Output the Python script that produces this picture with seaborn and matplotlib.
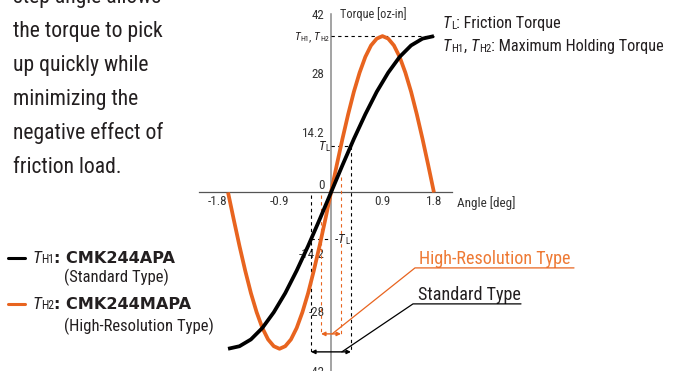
import numpy as np
import matplotlib
matplotlib.use("Agg")
import matplotlib.pyplot as plt
import matplotlib.transforms as mtransforms
from matplotlib.lines import Line2D
from matplotlib import font_manager
import seaborn as sns

# ---- data -------------------------------------------------------------
angle_std = [-1.8, -1.6, -1.4, -1.2, -1.0, -0.8, -0.6, -0.4, -0.2, 0.0,
             0.2, 0.4, 0.6, 0.8, 1.0, 1.2, 1.4, 1.6, 1.8]
torque_std = [-36.8, -36.2, -34.6, -31.9, -28.2, -23.7, -18.4, -12.6, -6.4, 0.0,
              6.4, 12.6, 18.4, 23.7, 28.2, 31.9, 34.6, 36.2, 36.8]

angle_hr = [-1.8, -1.7, -1.6, -1.5, -1.4, -1.3, -1.2, -1.1, -1.0, -0.9,
            -0.8, -0.7, -0.6, -0.5, -0.4, -0.3, -0.2, -0.1, 0.0,
            0.1, 0.2, 0.3, 0.4, 0.5, 0.6, 0.7, 0.8, 0.9,
            1.0, 1.1, 1.2, 1.3, 1.4, 1.5, 1.6, 1.7, 1.8]
torque_hr = [0.0, -6.4, -12.6, -18.4, -23.7, -28.2, -31.9, -34.6, -36.2, -36.8,
             -36.2, -34.6, -31.9, -28.2, -23.7, -18.4, -12.6, -6.4, 0.0,
             6.4, 12.6, 18.4, 23.7, 28.2, 31.9, 34.6, 36.2, 36.8,
             36.2, 34.6, 31.9, 28.2, 23.7, 18.4, 12.6, 6.4, 0.0]

holding_torque = 36.8
friction_torque = 11.0

x_ticks = [-1.8, -0.9, 0.9, 1.8]
x_tick_labels = ["-1.8", "-0.9", "0.9", "1.8"]
y_ticks = [42, 28, 14.2, 0, -14.2, -28, -42]
y_tick_labels = ["42", "28", "14.2", "0", "-14.2", "-28", "-42"]

paragraph = ["step angle allows", "the torque to pick", "up quickly while",
             "minimizing the", "negative effect of", "friction load."]

# ---- style ------------------------------------------------------------
sns.set_style("white")
installed = {f.name for f in font_manager.fontManager.ttflist}
narrow = [n for n in ("Roboto Condensed", "Liberation Sans Narrow", "Open Sans Condensed")
          if n in installed]
plt.rcParams["font.family"] = narrow + ["Liberation Sans", "DejaVu Sans"]
# text sizes shrink a little when only a regular-width face is at hand
K = 1.0 if narrow else 0.88

ORANGE = "#E8641F"
ORANGE_TXT = "#EE7A35"
INK = "#231F20"

W, H = 673, 371
fig = plt.figure(figsize=(W / 100, H / 100), dpi=100)
ax = fig.add_axes([0, 0, 1, 1])

# chart origin and scale inside the canvas
X0, PX_DEG = 331, 57.2
Y0, PX_OZ = 192.5, 4.25


def dx(px):
    return (px - X0) / PX_DEG


def dy(py):
    return (Y0 - py) / PX_OZ


def fx(px):
    return px / W


def fy(py):
    return 1 - py / H


ax.set_xlim(dx(0), dx(W))
ax.set_ylim(min(dy(H), -42.03), dy(0))

# ---- curves -----------------------------------------------------------
sns.lineplot(x=angle_hr, y=torque_hr, color=ORANGE, linewidth=2.7, ax=ax,
             sort=False, estimator=None, zorder=4, solid_capstyle="butt")
sns.lineplot(x=angle_std, y=torque_std, color="black", linewidth=2.7, ax=ax,
             sort=False, estimator=None, zorder=5, solid_capstyle="butt")

# ---- axes -------------------------------------------------------------
for side in ("top", "right"):
    ax.spines[side].set_visible(False)
ax.spines["left"].set_position(("data", 0))
ax.spines["bottom"].set_position(("data", 0))
ax.spines["left"].set_bounds(ax.get_ylim()[0], 42)
ax.spines["bottom"].set_bounds(dx(199), dx(452))
ax.spines["left"].set_color("#8a8a8a")
ax.spines["left"].set_linewidth(1.1)
ax.spines["bottom"].set_color("#555555")
ax.spines["bottom"].set_linewidth(0.9)
ax.grid(False)

ax.set_xticks(x_ticks)
ax.set_xticklabels(x_tick_labels)
ax.set_yticks(y_ticks)
ax.set_yticklabels(y_tick_labels)
ax.tick_params(axis="x", direction="in", length=3, width=0.8, color="#555555",
               labelsize=9.4 * K, labelcolor="#333333", pad=2)
ax.tick_params(axis="y", direction="out", length=3, width=0.8, color="#8a8a8a",
               labelsize=9.4 * K, labelcolor="#333333", pad=1.5)

# "0" sits just above the horizontal axis; "-1.8" is nudged clear of the curve
for t, lab in zip(ax.yaxis.get_major_ticks(), y_tick_labels):
    if lab == "0":
        t.label1.set_verticalalignment("bottom")
t0 = ax.xaxis.get_major_ticks()[0]
t0.label1.set_transform(t0.label1.get_transform()
                        + mtransforms.ScaledTranslation(-0.11, 0, fig.dpi_scale_trans))

ax.text(dx(340), 42, "Torque [oz-in]", ha="left", va="center", fontsize=8.8 * K, color="#333333")
ax.text(dx(457), dy(203), "Angle [deg]", ha="left", va="center", fontsize=9.5 * K, color="#333333")

# ---- guide lines ------------------------------------------------------
ang_std = np.array(angle_std)
tq_std = np.array(torque_std)
ang_hr = np.array(angle_hr)
tq_hr = np.array(torque_hr)
rise_std = (ang_std >= 0)
rise_hr = (ang_hr >= 0) & (ang_hr <= 0.9)
th_std = np.interp(friction_torque, tq_std[rise_std], ang_std[rise_std])
th_hr = np.interp(friction_torque, tq_hr[rise_hr], ang_hr[rise_hr])

arrow_hr_y = dy(334)
arrow_std_y = dy(352)

dash = dict(linestyle=(0, (3, 3)), linewidth=0.8, zorder=3)
ax.plot([0, max(angle_std)], [holding_torque] * 2, color="black", **dash)
ax.plot([0, th_std], [friction_torque] * 2, color="black", **dash)
ax.plot([-th_std, 0], [-friction_torque] * 2, color="black", **dash)
ax.plot([th_std, th_std], [friction_torque, arrow_std_y], color="black", **dash)
ax.plot([-th_std, -th_std], [-0.7, arrow_std_y], color="black", **dash)
ax.plot([th_hr, th_hr], [3.6, arrow_hr_y], color=ORANGE, **dash)
ax.plot([-th_hr, -th_hr], [-0.6, arrow_hr_y], color=ORANGE, **dash)

ax.annotate("", xy=(th_hr, arrow_hr_y), xytext=(-th_hr, arrow_hr_y),
            arrowprops=dict(arrowstyle="<|-|>", color=ORANGE, lw=1.0,
                            mutation_scale=6, shrinkA=0, shrinkB=0), zorder=6)
ax.annotate("", xy=(th_std, arrow_std_y), xytext=(-th_std, arrow_std_y),
            arrowprops=dict(arrowstyle="<|-|>", color="black", lw=1.0,
                            mutation_scale=6, shrinkA=0, shrinkB=0), zorder=6)

# leader lines to the type labels
ax.plot([0.02, dx(415), dx(574)], [arrow_hr_y, dy(268), dy(268)],
        color=ORANGE, lw=0.9, clip_on=False, zorder=6)
ax.plot([0.19, dx(413), dx(521)], [arrow_std_y, dy(304), dy(304)],
        color="black", lw=0.9, clip_on=False, zorder=6)
ax.text(dx(419), dy(264), "High-Resolution Type", color=ORANGE_TXT,
        fontsize=13.1 * K, ha="left", va="baseline")
ax.text(dx(418), dy(300), "Standard Type", color=INK,
        fontsize=13.1 * K, ha="left", va="baseline")


# ---- mixed-style text runs -------------------------------------------
def rich(x, y, parts, transform):
    s, kw = parts[0]
    prev = ax.text(x, y, s, transform=transform, ha="left", va="baseline", **kw)
    for s, kw in parts[1:]:
        prev = ax.annotate(s, xy=(1, 0), xycoords=prev, ha="left", va="bottom", **kw)
    return prev


def sym(sub, size, color=INK):
    return [("T", dict(fontsize=size, style="italic", color=color)),
            (sub, dict(fontsize=size * 0.68, color=color))]


rich(dx(295), holding_torque - 0.9, sym("H1", 8.2 * K) + [(", ", dict(fontsize=8.2 * K, color=INK))]
     + sym("H2", 8.2 * K), ax.transData)
rich(dx(319), friction_torque - 1.0, sym("L", 9.4 * K), ax.transData)
rich(dx(335), -friction_torque - 1.0, [("-", dict(fontsize=9.4 * K, color=INK))] + sym("L", 9.4 * K),
     ax.transData)

rich(fx(443), fy(28), sym("L", 11.7 * K) + [(": Friction Torque", dict(fontsize=11.7 * K, color=INK))],
     fig.transFigure)
rich(fx(443), fy(51), sym("H1", 11.7 * K) + [(", ", dict(fontsize=11.7 * K, color=INK))]
     + sym("H2", 11.7 * K) + [(": Maximum Holding Torque", dict(fontsize=11.7 * K, color=INK))],
     fig.transFigure)

# ---- legend -----------------------------------------------------------
bold = dict(fontsize=11.6, fontweight="bold", family="DejaVu Sans", color=INK)
fig.add_artist(Line2D([fx(8), fx(25)], [fy(258)] * 2, color="black", lw=2.2,
                      transform=fig.transFigure))
rich(fx(32), fy(263), sym("H1", 12.5 * K) + [(": CMK244APA", bold)], fig.transFigure)
ax.text(fx(64), fy(282), "(Standard Type)", transform=fig.transFigure,
        fontsize=12 * K, color=INK, ha="left", va="baseline")
fig.add_artist(Line2D([fx(8), fx(25)], [fy(304)] * 2, color=ORANGE, lw=2.2,
                      transform=fig.transFigure))
rich(fx(32), fy(309), sym("H2", 12.5 * K) + [(": CMK244MAPA", bold)], fig.transFigure)
ax.text(fx(64), fy(331), "(High-Resolution Type)", transform=fig.transFigure,
        fontsize=12 * K, color=INK, ha="left", va="baseline")

# ---- side paragraph ---------------------------------------------------
for i, line in enumerate(paragraph):
    ax.text(fx(13), fy(3 + 34 * i), line, transform=fig.transFigure,
            fontsize=15.6 * K, color=INK, ha="left", va="baseline")

fig.savefig("out.png", dpi=100)
